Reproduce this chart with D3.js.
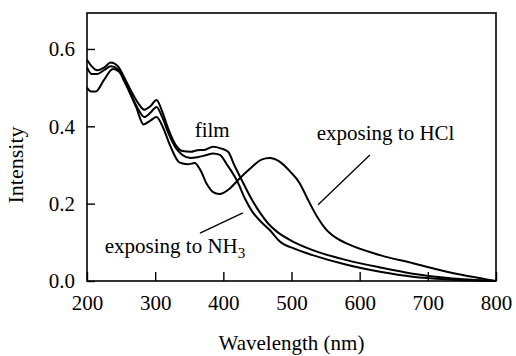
<!DOCTYPE html>
<html>
<head>
<meta charset="utf-8">
<script src="https://cdn.jsdelivr.net/npm/d3@7"></script>
<style>
  body { margin: 0; background: #fff; }
</style>
</head>
<body>
<svg id="chart" width="516" height="356"></svg>
<script>
// spectra: [wavelength nm, intensity]
const film = [[200,0.572],[207,0.555],[215,0.545],[225,0.552],[235,0.565],[245,0.556],[255,0.525],[265,0.49],[275,0.46],[284,0.443],[293,0.452],[302,0.468],[310,0.44],[320,0.39],[330,0.352],[340,0.336],[352,0.334],[362,0.338],[372,0.339],[385,0.347],[396,0.343],[407,0.334],[416,0.3],[429,0.254],[442,0.21],[454,0.176],[466,0.148],[479,0.127],[500,0.104],[531,0.08],[581,0.054],[630,0.035],[678,0.019],[730,0.008],[800,0]];
const nh3 = [[200,0.552],[207,0.535],[215,0.535],[225,0.545],[235,0.555],[245,0.548],[255,0.515],[265,0.48],[275,0.445],[284,0.424],[293,0.435],[302,0.45],[310,0.425],[320,0.38],[330,0.345],[340,0.326],[352,0.318],[362,0.32],[374,0.325],[385,0.33],[395,0.326],[405,0.302],[421,0.256],[432,0.212],[443,0.178],[456,0.152],[468,0.132],[483,0.102],[505,0.083],[531,0.067],[581,0.042],[630,0.024],[678,0.011],[730,0.004],[800,0]];
const hcl = [[200,0.5],[206,0.49],[213,0.49],[225,0.52],[238,0.548],[250,0.535],[262,0.49],[272,0.45],[283,0.405],[293,0.415],[302,0.424],[312,0.395],[322,0.35],[336,0.306],[348,0.302],[358,0.305],[366,0.288],[376,0.25],[385,0.23],[394,0.225],[410,0.24],[421,0.26],[439,0.29],[456,0.314],[468,0.318],[483,0.308],[498,0.283],[512,0.253],[522,0.218],[537,0.168],[550,0.135],[565,0.112],[585,0.094],[630,0.067],[678,0.046],[728,0.024],[800,0]];

const xTicks = [200, 300, 400, 500, 600, 700, 800];
const yTicks = [0, 0.2, 0.4, 0.6];

const serif = "'Liberation Serif', 'Times New Roman', Times, 'DejaVu Serif', serif";

const svg = d3.select('#chart');

const x = d3.scaleLinear().domain([200, 800]).range([87, 496]);
const y = d3.scaleLinear().domain([0, 0.693]).range([281, 13]);

// axes (ticks point inward)
const xAxis = svg.append('g')
  .attr('transform', 'translate(0,281)')
  .call(d3.axisBottom(x).tickValues(xTicks).tickSizeInner(-9).tickSizeOuter(0).tickPadding(14));
const yAxis = svg.append('g')
  .attr('transform', 'translate(87,0)')
  .call(d3.axisLeft(y).tickValues(yTicks).tickFormat(d3.format('.1f')).tickSizeInner(-8).tickSizeOuter(0).tickPadding(12));

[xAxis, yAxis].forEach(a => {
  a.attr('font-family', serif).attr('font-size', 21);
  a.select('.domain').remove();
  a.selectAll('line').attr('stroke', '#000').attr('stroke-width', 1.4);
  a.selectAll('text').attr('fill', '#000');
});

// frame
svg.append('rect')
  .attr('x', x(200)).attr('y', y(0.693))
  .attr('width', x(800) - x(200)).attr('height', y(0) - y(0.693))
  .attr('fill', 'none').attr('stroke', '#000').attr('stroke-width', 1.6);

const line = d3.line()
  .x(d => x(d[0]))
  .y(d => y(d[1]))
  .curve(d3.curveMonotoneX);

[film, nh3, hcl].forEach(s => {
  svg.append('path')
    .datum(s)
    .attr('d', line)
    .attr('fill', 'none')
    .attr('stroke', '#000')
    .attr('stroke-width', 2);
});

const labels = svg.append('g').attr('font-family', serif).attr('font-size', 21).attr('fill', '#000');

// labels + pointer lines
labels.append('text').attr('x', x(358)).attr('y', y(0.373)).text('film');

labels.append('text').attr('x', x(537)).attr('y', y(0.365)).text('exposing to HCl');
svg.append('line')
  .attr('x1', x(615)).attr('y1', y(0.326)).attr('x2', x(539)).attr('y2', y(0.197))
  .attr('stroke', '#000').attr('stroke-width', 1.3);

const nhText = labels.append('text').attr('x', x(226)).attr('y', y(0.072));
nhText.append('tspan').text('exposing to NH');
nhText.append('tspan').attr('dy', 5).attr('font-size', 15).text('3');
svg.append('line')
  .attr('x1', x(365.7)).attr('y1', y(0.124)).attr('x2', x(428.7)).attr('y2', y(0.176))
  .attr('stroke', '#000').attr('stroke-width', 1.3);

// axis titles
labels.append('text')
  .attr('x', (x(200) + x(800)) / 2).attr('y', 350)
  .attr('text-anchor', 'middle')
  .text('Wavelength (nm)');
labels.append('text')
  .attr('transform', 'translate(23,165) rotate(-90)')
  .attr('text-anchor', 'middle').attr('font-size', 22)
  .text('Intensity');
</script>
</body>
</html>
